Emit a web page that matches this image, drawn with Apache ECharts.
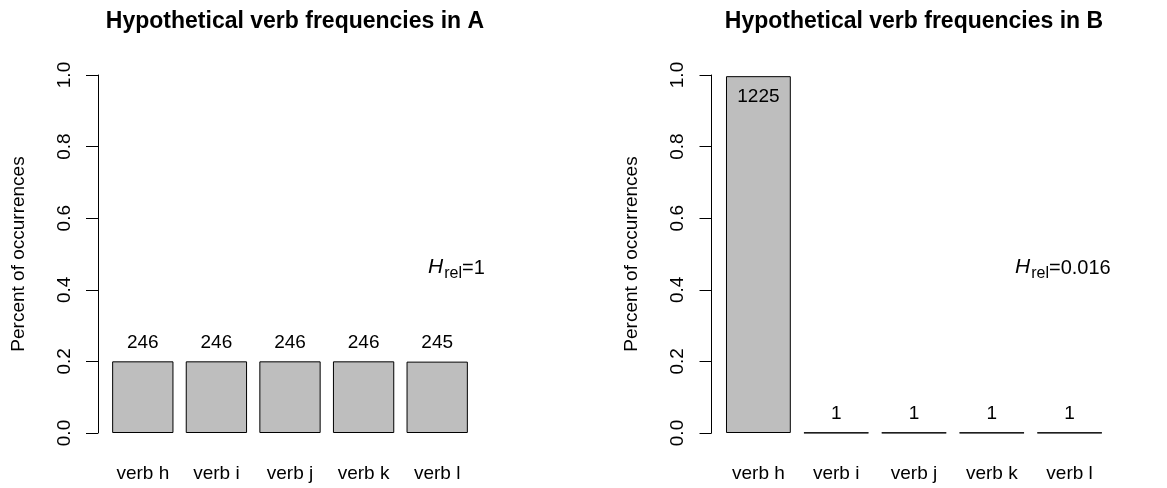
<!DOCTYPE html>
<html>
<head>
<meta charset="utf-8">
<script src="https://cdn.jsdelivr.net/npm/echarts@6/dist/echarts.min.js"></script>
<style>
  html, body { margin: 0; padding: 0; background: #fff; }
  #chart { width: 1167px; height: 488px; }
</style>
</head>
<body>
<div id="chart"></div>
<script type="text/javascript">
// data
var verbs = ['verb h', 'verb i', 'verb j', 'verb k', 'verb l'];
var countsA = [246, 246, 246, 246, 245];
var countsB = [1225, 1, 1, 1, 1];
var hrelA = '1';
var hrelB = '0.016';

function share(counts) {
    var total = counts.reduce(function (a, b) { return a + b; }, 0);
    return counts.map(function (c, i) {
        var item = { value: c / total, count: c };
        if (c / total > 0.9) {
            // big bar: number sits inside the top
            item.label = { position: 'insideTop', distance: 11 };
        }
        return item;
    });
}

var font = 'Liberation Sans, Arial, sans-serif';

function yAxisFor(idx) {
    return {
        type: 'value', gridIndex: idx, min: 0, max: 1, interval: 0.2,
        offset: 8,
        name: 'Percent of occurrences', nameLocation: 'middle', nameGap: 70,
        nameTextStyle: { fontFamily: font, fontSize: 19, color: '#000' },
        axisLine: { show: true, lineStyle: { color: '#000', width: 1 } },
        axisTick: { show: true, length: 12, lineStyle: { color: '#000' } },
        axisLabel: {
            rotate: 90, margin: 24, fontFamily: font, fontSize: 19, color: '#000',
            formatter: function (v) { return v.toFixed(1); }
        },
        splitLine: { show: false }
    };
}

function xAxisFor(idx) {
    return {
        type: 'category', gridIndex: idx, data: verbs,
        axisLine: { show: false }, axisTick: { show: false },
        axisLabel: { margin: 31, fontFamily: font, fontSize: 19, color: '#000' }
    };
}

function seriesFor(idx, counts) {
    return {
        type: 'bar', xAxisIndex: idx, yAxisIndex: idx,
        data: share(counts),
        barWidth: '83.3%',
        itemStyle: { color: '#bebebe', borderColor: '#000', borderWidth: 1 },
        label: {
            show: true, position: 'top', distance: 9,
            fontFamily: font, fontSize: 19, color: '#000',
            formatter: function (p) { return p.data.count; }
        },
        animation: false
    };
}

function hrel(x, val) {
    return {
        type: 'text', left: x, top: 257,
        style: {
            text: '{h|H}{s|rel}{n|=' + val + '}',
            rich: {
                h: { fontFamily: font, fontSize: 21, fontStyle: 'italic', fill: '#000', verticalAlign: 'bottom' },
                s: { fontFamily: font, fontSize: 16, fill: '#000', verticalAlign: 'bottom', padding: [0, 0, -4, 1] },
                n: { fontFamily: font, fontSize: 20, fill: '#000', verticalAlign: 'bottom' }
            }
        }
    };
}

var chart = echarts.init(document.getElementById('chart'));
chart.setOption({
    animation: false,
    backgroundColor: '#fff',
    title: [
        { text: 'Hypothetical verb frequencies in A', left: 290, top: 5, textAlign: 'center',
          textStyle: { fontFamily: font, fontSize: 23, fontWeight: 'bold', color: '#000' } },
        { text: 'Hypothetical verb frequencies in B', left: 909, top: 5, textAlign: 'center',
          textStyle: { fontFamily: font, fontSize: 23, fontWeight: 'bold', color: '#000' } }
    ],
    grid: [
        { left: 106, width: 368, top: 75, height: 358 },
        { left: 719.5, width: 389, top: 75, height: 358 }
    ],
    xAxis: [xAxisFor(0), xAxisFor(1)],
    yAxis: [yAxisFor(0), yAxisFor(1)],
    series: [seriesFor(0, countsA), seriesFor(1, countsB)],
    graphic: [hrel(428, hrelA), hrel(1015, hrelB)]
});
</script>
</body>
</html>
